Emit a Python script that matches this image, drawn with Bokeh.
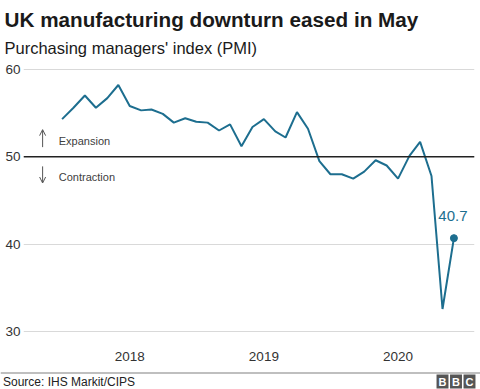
import pandas as pd
from bokeh.plotting import figure
from bokeh.layouts import column
from bokeh.models import (Range1d, FixedTicker, DatetimeTickFormatter, Span, Label,
                          Arrow, OpenHead)
from bokeh.embed import file_html
from bokeh.resources import INLINE

# ---- data ----
months = pd.period_range("2017-06", "2020-05", freq="M").to_timestamp(how="end")
pmi = [54.3, 55.6, 57.0, 55.6, 56.7, 58.2, 55.8,
       55.3, 55.4, 54.9, 53.9, 54.4, 54.0, 53.9, 53.0, 53.7, 51.2, 53.4, 54.3,
       52.9, 52.2, 55.1, 53.2, 49.5, 48.0, 48.0, 47.5, 48.3, 49.6, 49.0, 47.5,
       50.1, 51.7, 47.8, 32.6, 40.7]
year_ticks = ["2018", "2019", "2020"]
y_ticks = [30, 40, 50, 60]
threshold = 50
last_label = "40.7"

title_text = "UK manufacturing downturn eased in May"
subtitle_text = "Purchasing managers' index (PMI)"
source_text = "Source: IHS Markit/CIPS"
logo_letters = ["B", "B", "C"]

FONT = "Liberation Sans"
TEAL = "#1d6e8f"
W = 480


def blank(height):
    f = figure(width=W, height=height, toolbar_location=None, output_backend="svg",
               title=None, frame_align=False,
               x_range=Range1d(0, W), y_range=Range1d(height, 0),
               x_axis_location=None, y_axis_location=None,
               min_border=0, min_border_left=0, min_border_right=0,
               min_border_top=0, min_border_bottom=0)
    f.outline_line_color = None
    f.xgrid.visible = False
    f.ygrid.visible = False
    return f


# ---- header ----
head = blank(60)
head.add_layout(Label(x=4, y=19, text=title_text, text_font=FONT, text_font_size="20.7px",
                      text_font_style="bold", text_color="#1a1a1a",
                      text_baseline="alphabetic"))
head.add_layout(Label(x=4, y=47, text=subtitle_text, text_font=FONT,
                      text_font_size="16.5px", text_color="#1a1a1a",
                      text_baseline="alphabetic"))

# ---- main chart ----
p = figure(width=W, height=306, x_axis_type="datetime", title=None, frame_align=False,
           toolbar_location=None, output_backend="svg",
           x_range=Range1d(pd.Timestamp("2017-03-18"), pd.Timestamp("2020-07-27")),
           y_range=Range1d(29.8, 60.2),
           min_border_left=23, min_border_right=6, min_border_top=7, min_border_bottom=33)
p.outline_line_color = None

tick_ms = [pd.Timestamp(f"{y}-01-01").timestamp() * 1000 for y in year_ticks]
p.xaxis.ticker = FixedTicker(ticks=tick_ms)
p.xaxis.formatter = DatetimeTickFormatter(years="%Y", months="%Y", days="%Y")
p.yaxis.ticker = FixedTicker(ticks=y_ticks)
for ax in (p.xaxis, p.yaxis):
    ax.axis_line_color = None
    ax.major_tick_line_color = None
    ax.minor_tick_line_color = None
    ax.major_tick_in = 0
    ax.major_tick_out = 0
    ax.major_label_text_font = FONT
    ax.major_label_text_font_size = "13.5px"
    ax.major_label_text_color = "#333333"
p.yaxis.major_label_standoff = 3
p.xaxis.major_label_standoff = 18

p.xgrid.grid_line_color = None
p.ygrid.grid_line_color = "#d9d9d9"
p.ygrid.grid_line_width = 1

p.add_layout(Span(location=threshold, dimension="width", line_color="#222222",
                  line_width=1.5))

p.line(months, pmi, line_color=TEAL, line_width=2)
p.scatter([months[-1]], [pmi[-1]], size=7, fill_color=TEAL, line_color=TEAL)
p.add_layout(Label(x=months[-1], y=pmi[-1], text=last_label, text_font=FONT,
                   text_font_size="15px", text_color=TEAL, text_align="center",
                   text_baseline="alphabetic", y_offset=22, x_offset=-1))

ax_x = pd.Timestamp("2017-05-09")
tx_x = pd.Timestamp("2017-06-22")
p.add_layout(Arrow(end=OpenHead(size=6, line_color="#555555", line_width=1),
                   x_start=ax_x, y_start=51.1, x_end=ax_x, y_end=53.1,
                   line_color="#555555", line_width=1))
p.add_layout(Arrow(end=OpenHead(size=6, line_color="#555555", line_width=1),
                   x_start=ax_x, y_start=48.9, x_end=ax_x, y_end=47.0,
                   line_color="#555555", line_width=1))
p.add_layout(Label(x=tx_x, y=51.8, text="Expansion", text_font=FONT,
                   text_font_size="11px", text_color="#404040", text_baseline="middle"))
p.add_layout(Label(x=tx_x, y=47.7, text="Contraction", text_font=FONT,
                   text_font_size="11px", text_color="#404040", text_baseline="middle"))

# ---- footer ----
foot = blank(23)
foot.add_layout(Span(location=6.5, dimension="width", line_color="#aaaaaa", line_width=1.5))
foot.add_layout(Label(x=2.5, y=15, text=source_text, text_font=FONT, text_font_size="12px",
                      text_color="#222222", text_baseline="middle"))
for i, letter in enumerate(logo_letters):
    foot.add_layout(Label(x=442 + i * 13.5, y=15, text=letter, text_font=FONT,
                          text_font_size="11px", text_font_style="bold",
                          text_color="white", text_align="center", text_baseline="middle",
                          background_fill_color="#555555", padding=(2, 1)))

layout = column(head, p, foot, spacing=0)
open("out.html", "w").write(file_html(layout, INLINE))
